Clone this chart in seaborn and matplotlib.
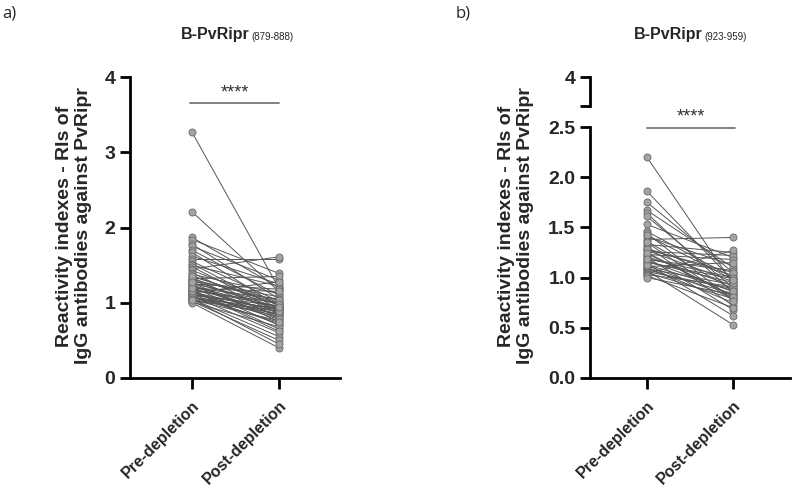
import numpy as np
import pandas as pd
import matplotlib
matplotlib.use("Agg")
import matplotlib.pyplot as plt
import seaborn as sns

# values (paired pre/post per sample)
conditions = ["Pre-depletion", "Post-depletion"]

pre_a = [3.27, 2.21, 1.87, 1.84, 1.78, 1.75, 1.70, 1.67, 1.62, 1.58, 1.55, 1.52, 1.50, 1.48, 1.45,
         1.43, 1.40, 1.38, 1.36, 1.34, 1.32, 1.30, 1.29, 1.27, 1.26, 1.25, 1.24, 1.22, 1.21, 1.20,
         1.19, 1.18, 1.17, 1.16, 1.15, 1.14, 1.13, 1.12, 1.11, 1.10, 1.09, 1.08, 1.07, 1.06, 1.05,
         1.04, 1.03, 1.02, 1.01, 1.00, 1.12, 1.23, 1.31, 1.08, 1.16, 1.05, 1.35, 1.19, 1.04, 1.27]
post_a = [1.19, 1.15, 1.20, 1.39, 1.05, 1.30, 1.10, 0.95, 1.25, 1.58, 1.02, 0.92, 1.22, 0.88, 1.61,
          1.00, 0.85, 1.12, 0.97, 0.80, 1.35, 0.90, 1.08, 0.75, 0.98, 1.18, 0.83, 0.93, 0.70, 1.05,
          0.87, 0.95, 0.65, 1.00, 0.78, 0.90, 1.28, 0.84, 0.72, 0.96, 0.60, 0.88, 0.82, 0.93, 0.55,
          0.76, 0.86, 0.50, 0.68, 0.40, 0.91, 0.79, 1.03, 0.74, 0.62, 0.45, 0.99, 1.15, 0.89, 0.94]

pre_b = [2.20, 1.86, 1.75, 1.67, 1.64, 1.61, 1.53, 1.46, 1.44, 1.41, 1.38, 1.36, 1.33, 1.31, 1.29,
         1.27, 1.26, 1.24, 1.23, 1.21, 1.20, 1.18, 1.17, 1.15, 1.14, 1.12, 1.11, 1.10, 1.09, 1.08,
         1.07, 1.06, 1.05, 1.04, 1.03, 1.02, 1.00, 1.28, 1.16, 1.13, 1.25, 1.19, 1.42, 1.35]
post_b = [0.94, 0.97, 1.05, 1.10, 0.85, 0.90, 1.20, 1.00, 0.78, 1.12, 1.40, 0.88, 1.25, 0.72, 1.02,
          0.96, 1.22, 0.82, 1.18, 0.92, 0.68, 1.07, 0.86, 0.99, 0.62, 0.80, 1.15, 0.75, 0.93, 0.84,
          0.53, 0.89, 0.79, 1.27, 0.91, 0.70, 0.83, 1.05, 0.95, 0.87, 0.81, 1.00, 0.98, 0.77]


def to_long(pre, post):
    n = len(pre)
    return pd.DataFrame({
        "id": list(range(n)) * 2,
        "cond": [conditions[0]] * n + [conditions[1]] * n,
        "value": pre + post,
    })


df_a = to_long(pre_a, post_a)
df_b = to_long(pre_b, post_b)

sns.set_style("ticks")
plt.rcParams["font.family"] = ["Liberation Sans", "DejaVu Sans"]

fig = plt.figure(figsize=(7.93, 4.92), dpi=100)

ax_a = fig.add_axes([130 / 793, 1 - 378 / 492, 210 / 793, 301 / 492])
ax_b = fig.add_axes([590 / 793, 1 - 378 / 492, 200 / 793, 251 / 492])
ax_bt = fig.add_axes([590 / 793, 1 - 106 / 492, 200 / 793, 29 / 492])


def draw_pairs(ax, df):
    sns.lineplot(data=df, x="cond", y="value", units="id", estimator=None,
                 color="#555555", lw=0.7, ax=ax, legend=False, sort=False)
    sns.scatterplot(data=df, x="cond", y="value", s=26, color="#a3a3a3",
                    edgecolor="#6a6a6a", linewidth=0.6, ax=ax, zorder=3, legend=False)


def style_axis(ax):
    for s in ["top", "right"]:
        ax.spines[s].set_visible(False)
    for s in ["left", "bottom"]:
        ax.spines[s].set_linewidth(2)
        ax.spines[s].set_color("black")
    ax.tick_params(axis="y", width=2, length=7, color="black")
    ax.tick_params(axis="x", width=2, length=8, color="black", pad=6)
    ax.set_xlabel("")
    ax.set_ylabel("")
    for lab in ax.get_yticklabels():
        lab.set_fontsize(14)
        lab.set_fontweight("bold")
    ax.set_xticks([0, 1])
    ax.set_xticklabels(conditions, rotation=45, ha="right", rotation_mode="anchor",
                       fontsize=11.5, fontweight="bold")


# panel a
draw_pairs(ax_a, df_a)
ax_a.set_ylim(0, 4)
ax_a.set_yticks([0, 1, 2, 3, 4])
ax_a.set_xlim(-0.71, 1.70)
style_axis(ax_a)
ax_a.plot([-0.02, 1.0], [3.65, 3.65], color="#777777", lw=1.3, clip_on=False)
ax_a.text(0.49, 3.68, "****", ha="center", va="bottom", fontsize=13, color="#333333")

# panel b, lower part
draw_pairs(ax_b, df_b)
ax_b.set_ylim(0, 2.5)
ax_b.set_yticks([0, 0.5, 1.0, 1.5, 2.0, 2.5])
ax_b.set_yticklabels(["0.0", "0.5", "1.0", "1.5", "2.0", "2.5"])
ax_b.set_xlim(-0.66, 1.66)
style_axis(ax_b)
ax_b.plot([0.0, 1.02], [2.49, 2.49], color="#777777", lw=1.3, clip_on=False)
ax_b.text(0.51, 2.52, "****", ha="center", va="bottom", fontsize=13, color="#333333")

# panel b, upper part of the broken axis
ax_bt.set_ylim(3.72, 4.0)
ax_bt.set_yticks([3.72, 4.0])
ax_bt.set_yticklabels(["", "4"])
ax_bt.set_xlim(-0.66, 1.66)
ax_bt.set_xticks([])
for s in ["top", "right", "bottom"]:
    ax_bt.spines[s].set_visible(False)
ax_bt.spines["left"].set_linewidth(2)
ax_bt.spines["left"].set_color("black")
ax_bt.tick_params(axis="y", width=2, length=7, color="black")
for lab in ax_bt.get_yticklabels():
    lab.set_fontsize(14)
    lab.set_fontweight("bold")

ylab = "Reactivity indexes - RIs of\nIgG antibodies against PvRipr"
fig.text(74 / 793, 1 - 226 / 492, ylab, rotation=90, ha="center", va="center",
         multialignment="center", fontsize=14, fontweight="bold")
fig.text(516 / 793, 1 - 226 / 492, ylab, rotation=90, ha="center", va="center",
         multialignment="center", fontsize=14, fontweight="bold")

# titles with subscript ranges
fig.text(250 / 793, 1 - 39 / 492, "B-PvRipr", ha="right", va="baseline",
         fontsize=11.5, fontweight="bold")
fig.text(251 / 793, 1 - 40 / 492, "(879-888)", ha="left", va="baseline", fontsize=7)
fig.text(703 / 793, 1 - 39 / 492, "B-PvRipr", ha="right", va="baseline",
         fontsize=11.5, fontweight="bold")
fig.text(704 / 793, 1 - 40 / 492, "(923-959)", ha="left", va="baseline", fontsize=7)

fig.text(2 / 793, 1 - 14 / 492, "a)", ha="left", va="center", fontsize=12, family="Open Sans")
fig.text(456 / 793, 1 - 14 / 492, "b)", ha="left", va="center", fontsize=12, family="Open Sans")

fig.savefig("out.png", dpi=100)
